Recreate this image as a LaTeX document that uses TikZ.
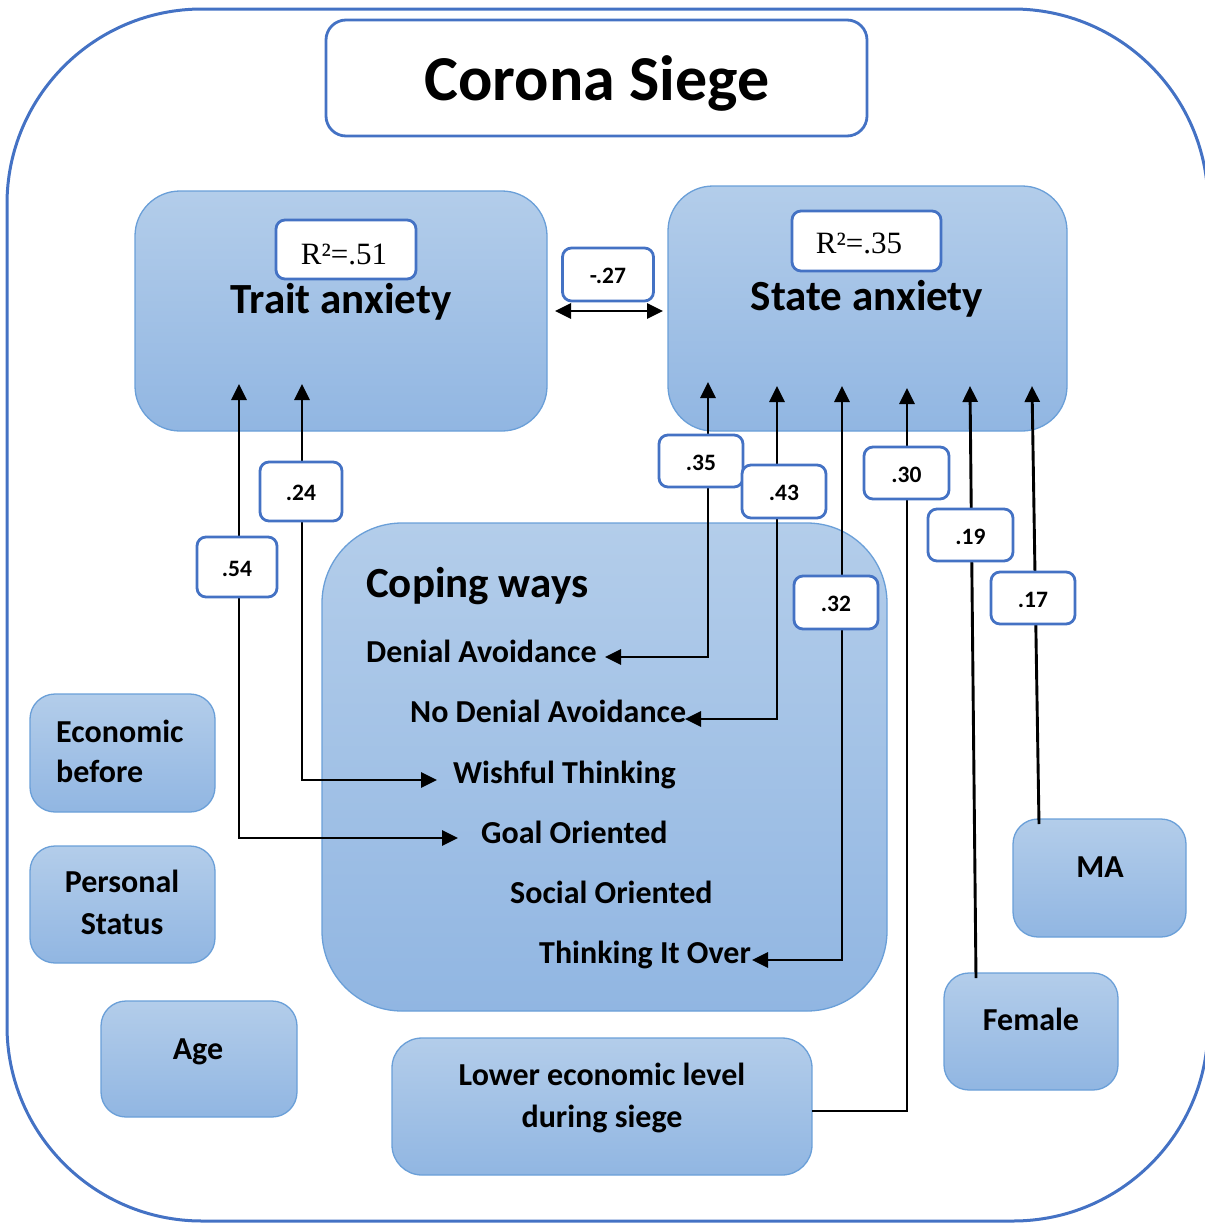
\documentclass[tikz,border=0pt]{standalone}
\usepackage{fontspec}
\setmainfont{Carlito}
\newfontfamily\tmsfont{Liberation Serif}
\usetikzlibrary{arrows.meta}
\definecolor{stop}{HTML}{B3CDEA}
\definecolor{sbot}{HTML}{91B6E2}
\definecolor{sborder}{HTML}{6A9FD8}
\definecolor{lborder}{HTML}{4472C4}
\tikzset{
  sbox/.style={draw=sborder, line width=1.3pt, top color=stop, bottom color=sbot, inner sep=0pt},
  lbox/.style={draw=lborder, line width=2.8pt, fill=white, rounded corners=9pt, inner sep=0pt},
  coeftxt/.style={font=\bfseries\fontsize{23.5}{28}\selectfont, inner sep=0pt},
  btxt/.style={font=\bfseries\fontsize{32}{37}\selectfont, inner sep=0pt},
  bigtxt/.style={font=\bfseries\fontsize{43}{49}\selectfont, inner sep=0pt},
  rtxt/.style={font=\tmsfont\fontsize{31}{35}\selectfont, inner sep=0pt},
  conn/.style={line width=2.9pt, draw=black},
  >={Triangle[length=16pt,width=15pt]}
}
\newcommand\mkcoef[6]{%
  \node[lbox, minimum width=#4pt, minimum height=#5pt] (#1) at (#2,#3) {};
  \node[coeftxt, anchor=base] (#1t) at ([yshift=-9pt]#1.center) {#6};}
\begin{document}
\begin{tikzpicture}[x=1pt,y=-1pt]
\useasboundingbox (0,0) rectangle (1205,1224);
% outer frame
\begin{scope}
  \clip (0,0) rectangle (1205,1224);
  \draw[draw=lborder, line width=3pt, rounded corners=195pt] (7,9) rectangle (1208,1221);
\end{scope}
% title
\node[lbox, rounded corners=20pt, minimum width=541pt, minimum height=116pt] (title) at (596.5,78) {};
\node[font=\bfseries\fontsize{64}{70}\selectfont, anchor=base, inner sep=0pt] (titlet) at (597,100) {Corona Siege};

% shaded boxes
\node[sbox, rounded corners=45pt, minimum width=412pt, minimum height=240pt] (trait) at (341,311) {};
\node[sbox, rounded corners=45pt, minimum width=399pt, minimum height=245pt] (state) at (867.5,308.5) {};
\node[sbox, rounded corners=80pt, minimum width=565pt, minimum height=488pt] (coping) at (604.5,767) {};
\node[sbox, rounded corners=25pt, minimum width=185pt, minimum height=118pt] (econ) at (122.5,753) {};
\node[sbox, rounded corners=25pt, minimum width=185pt, minimum height=117pt] (pers) at (122.5,904.5) {};
\node[sbox, rounded corners=25pt, minimum width=196pt, minimum height=116pt] (age) at (199,1059) {};
\node[sbox, rounded corners=30pt, minimum width=420pt, minimum height=137pt] (lower) at (602,1106.5) {};
\node[sbox, rounded corners=25pt, minimum width=174pt, minimum height=117pt] (female) at (1031,1031.5) {};
\node[sbox, rounded corners=25pt, minimum width=173pt, minimum height=118pt] (ma) at (1099.5,878) {};

% R2 boxes and titles
\node[lbox, minimum width=140pt, minimum height=59pt] (r1) at (346,249.5) {};
\node[rtxt, anchor=base] (r1t) at (344,264) {R²=.51};
\node[lbox, minimum width=149pt, minimum height=60pt] (r2) at (866.5,241) {};
\node[rtxt, anchor=base] (r2t) at (859,253) {R²=.35};
\node[bigtxt, anchor=base] (traitt) at (341,313) {Trait anxiety};
\node[bigtxt, anchor=base] (statet) at (867,310) {State anxiety};

% coping texts
\node[font=\bfseries\fontsize{43}{49}\selectfont, anchor=base west, inner sep=0pt] (copt) at (366,597) {Coping ways};
\node[btxt, anchor=base west] (da) at (366,662) {Denial Avoidance};
\node[btxt, anchor=base west] (nda) at (410,722) {No Denial Avoidance};
\node[btxt, anchor=base west] (wt) at (453,783) {Wishful Thinking};
\node[btxt, anchor=base west] (go) at (481,843) {Goal Oriented};
\node[btxt, anchor=base west] (so) at (510,903) {Social Oriented};
\node[btxt, anchor=base west] (tio) at (539,963) {Thinking It Over};

% other texts
\node[btxt, anchor=base west] (econt1) at (56,742) {Economic};
\node[btxt, anchor=base west] (econt2) at (56,782) {before};
\node[btxt, anchor=base] (perst1) at (122,892) {Personal};
\node[btxt, anchor=base] (perst2) at (122,934) {Status};
\node[btxt, anchor=base] (aget) at (198,1059) {Age};
\node[btxt, anchor=base] (lowert1) at (602,1085) {Lower economic level};
\node[btxt, anchor=base] (lowert2) at (602,1127) {during siege};
\node[btxt, anchor=base] (femalet) at (1031,1030) {Female};
\node[btxt, anchor=base] (mat) at (1100,877) {MA};

% connector end points
\coordinate (t1) at (239,384);
\coordinate (t2) at (302,384);
\coordinate (s1) at (708,382);
\coordinate (s2) at (777,386);
\coordinate (s3) at (842,386);
\coordinate (s4) at (907,388);
\coordinate (s5) at (970,386);
\coordinate (s6) at (1032,386);
\coordinate (datip) at (605,657);
\coordinate (ndtip) at (685,719);
\coordinate (wttip) at (437,780);
\coordinate (gotip) at (458,838);
\coordinate (tiotip) at (752,960);
\coordinate (lowtip) at (812,1111);
\coordinate (femtip) at (976,978);
\coordinate (matip) at (1039,824);
\coordinate (tsl) at (555,311);
\coordinate (tsr) at (663,311);

% connectors
\draw[conn,<->] (tsl) -- (tsr);
\draw[conn,<->] (t1) |- (gotip);
\draw[conn,<->] (t2) |- (wttip);
\draw[conn,<->] (s1) |- (datip);
\draw[conn,<->] (s2) |- (ndtip);
\draw[conn,<->] (s3) |- (tiotip);
\draw[conn,->] (lowtip) -| (s4);
\draw[conn,->] (femtip) -- (s5);
\draw[conn,->] (matip) -- (s6);

% coefficient boxes
\mkcoef{c27}{608}{274.5}{91}{53}{-.27}
\mkcoef{c54}{237}{567}{80}{60}{.54}
\mkcoef{c24}{301}{491.5}{82}{59}{.24}
\mkcoef{c35}{701}{461}{84}{52}{.35}
\mkcoef{c43}{784}{491.5}{84}{53}{.43}
\mkcoef{c30}{906.5}{473}{85}{52}{.30}
\mkcoef{c32}{836}{602.5}{84}{53}{.32}
\mkcoef{c19}{970.5}{535}{85}{52}{.19}
\mkcoef{c17}{1033}{598}{84}{52}{.17}
\end{tikzpicture}
\end{document}
